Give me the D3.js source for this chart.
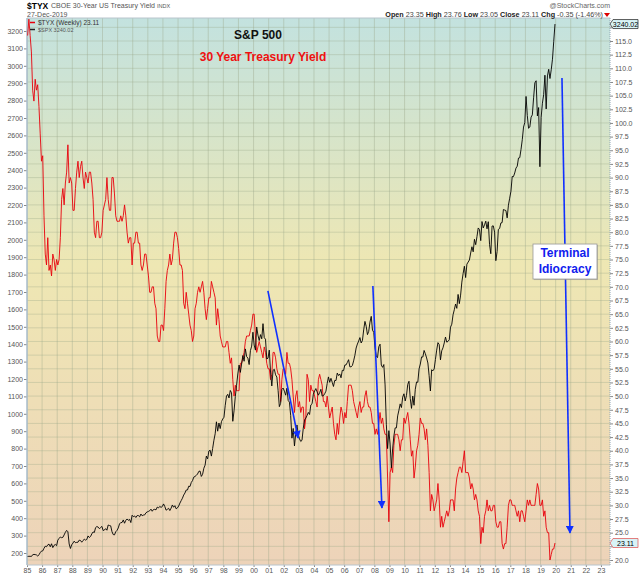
<!DOCTYPE html>
<html>
<head>
<meta charset="utf-8">
<script src="https://cdn.jsdelivr.net/npm/d3@7"></script>
<style>
  body { margin: 0; background: #fff; }
  svg text { font-family: "Liberation Sans", Arial, sans-serif; }
</style>
</head>
<body>
<svg id="chart" width="640" height="576"></svg>
<script>
// monthly closes, Jan 1985 .. Dec 2019
const startYear = 1985;

const spx = [
  180, 181, 181, 180, 190, 192, 191, 189, 182, 190, 202, 211, // 1985
  212, 227, 239, 236, 247, 251, 236, 253, 231, 244, 249, 242, // 1986
  274, 284, 292, 288, 290, 304, 319, 330, 322, 252, 226, 247, // 1987
  257, 268, 259, 261, 262, 274, 272, 262, 272, 279, 274, 278, // 1988
  298, 289, 295, 310, 321, 318, 346, 352, 349, 340, 346, 353, // 1989
  329, 332, 340, 331, 361, 358, 356, 323, 306, 304, 322, 330, // 1990
  344, 367, 375, 375, 390, 371, 388, 395, 388, 393, 375, 417, // 1991
  409, 413, 404, 415, 415, 408, 424, 414, 418, 419, 431, 436, // 1992
  439, 443, 452, 440, 450, 451, 448, 464, 459, 468, 462, 467, // 1993
  482, 467, 446, 451, 457, 444, 458, 476, 463, 472, 454, 459, // 1994
  470, 487, 501, 515, 533, 545, 562, 562, 584, 582, 605, 616, // 1995
  636, 640, 646, 654, 669, 671, 640, 652, 687, 705, 757, 741, // 1996
  786, 791, 757, 801, 848, 885, 954, 900, 947, 915, 955, 970, // 1997
  980, 1049, 1102, 1112, 1091, 1134, 1121, 957, 1017, 1099, 1164, 1229, // 1998
  1280, 1238, 1286, 1335, 1302, 1373, 1329, 1320, 1283, 1363, 1389, 1469, // 1999
  1395, 1366, 1499, 1452, 1421, 1455, 1431, 1518, 1437, 1429, 1315, 1320, // 2000
  1366, 1240, 1160, 1250, 1256, 1224, 1211, 1134, 1041, 1060, 1140, 1148, // 2001
  1130, 1107, 1147, 1077, 1067, 990, 860, 916, 815, 886, 936, 880, // 2002
  856, 841, 848, 917, 964, 975, 990, 1008, 996, 1051, 1058, 1112, // 2003
  1131, 1145, 1126, 1107, 1121, 1141, 1102, 1104, 1115, 1130, 1174, 1212, // 2004
  1181, 1204, 1181, 1157, 1192, 1191, 1234, 1220, 1229, 1207, 1250, 1248, // 2005
  1280, 1281, 1295, 1311, 1270, 1270, 1277, 1304, 1336, 1378, 1401, 1418, // 2006
  1438, 1407, 1421, 1482, 1531, 1503, 1455, 1474, 1527, 1560, 1481, 1468, // 2007
  1379, 1331, 1323, 1386, 1400, 1280, 1267, 1283, 1166, 940, 800, 903, // 2008
  826, 690, 798, 873, 919, 919, 988, 1021, 1057, 1036, 1096, 1115, // 2009
  1074, 1105, 1169, 1187, 1089, 1031, 1102, 1049, 1141, 1183, 1181, 1258, // 2010
  1286, 1327, 1326, 1364, 1345, 1321, 1292, 1219, 1131, 1253, 1247, 1258, // 2011
  1312, 1366, 1409, 1398, 1310, 1362, 1379, 1407, 1441, 1412, 1416, 1426, // 2012
  1498, 1515, 1569, 1598, 1631, 1606, 1686, 1633, 1682, 1757, 1806, 1848, // 2013
  1783, 1860, 1872, 1884, 1924, 1960, 1931, 2003, 1972, 2018, 2068, 2059, // 2014
  1995, 2105, 2068, 2086, 2107, 2063, 2104, 1972, 1920, 2079, 2080, 2044, // 2015
  1880, 1932, 2060, 2065, 2097, 2099, 2174, 2171, 2168, 2126, 2199, 2239, // 2016
  2279, 2364, 2363, 2384, 2412, 2423, 2470, 2472, 2519, 2575, 2648, 2674, // 2017
  2824, 2714, 2641, 2648, 2705, 2718, 2816, 2902, 2914, 2712, 2760, 2420, // 2018
  2704, 2785, 2834, 2946, 2752, 2942, 2980, 2927, 2977, 3038, 3141, 3240.02 // 2019
];

// $TYX = 30-year yield x 10
const tyx = [
  116, 119, 116, 113, 106, 104, 108, 106, 107, 103, 98, 93, // 1985
  94, 83, 76, 74, 79, 73, 74, 72, 76, 75, 73, 75, // 1986
  74, 75, 79, 86, 88, 85, 89, 91, 96, 89, 90, 89, // 1987
  84, 84, 88, 91, 93, 90, 92, 93, 90, 88, 91, 90, // 1988
  89, 91, 91, 89, 86, 80, 79, 82, 82, 79, 79, 80, // 1989
  84, 85, 86, 90, 86, 84, 84, 90, 90, 87, 83, 82, // 1990
  82, 82, 83, 82, 83, 85, 83, 80, 78, 79, 79, 74, // 1991
  78, 78, 80, 80, 78, 78, 74, 73, 74, 76, 76, 74, // 1992
  72, 69, 69, 70, 70, 67, 66, 61, 60, 60, 63, 63, // 1993
  62, 66, 71, 73, 74, 76, 74, 75, 78, 80, 80, 79, // 1994
  77, 74, 74, 73, 67, 66, 69, 67, 65, 63, 62, 60, // 1995
  61, 66, 67, 69, 70, 69, 70, 71, 69, 66, 64, 66, // 1996
  68, 68, 71, 70, 69, 68, 63, 66, 64, 61, 60, 59, // 1997
  59, 59, 60, 60, 58, 56, 57, 53, 50, 52, 51, 51, // 1998
  51, 56, 56, 57, 58, 60, 61, 61, 61, 62, 63, 65, // 1999
  65, 61, 58, 59, 60, 59, 58, 57, 59, 58, 56, 55, // 2000
  55, 53, 54, 58, 58, 57, 55, 54, 54, 49, 53, 55, // 2001
  55, 54, 58, 56, 56, 55, 53, 50, 47, 50, 51, 48, // 2002
  49, 47, 48, 48, 44, 46, 54, 53, 49, 52, 51, 51, // 2003
  50, 49, 48, 53, 54, 53, 52, 49, 49, 48, 50, 48, // 2004
  46, 47, 48, 45, 43, 42, 45, 43, 46, 48, 47, 45, // 2005
  47, 46, 49, 52, 52, 52, 51, 49, 48, 47, 46, 48, // 2006
  49, 47, 48, 48, 50, 51, 49, 48, 48, 47, 45, 45, // 2007
  43, 44, 43, 45, 47, 45, 46, 44, 43, 43, 35, 27, // 2008
  36, 37, 36, 41, 43, 43, 43, 42, 40, 42, 42, 46, // 2009
  45, 46, 47, 45, 42, 39, 40, 35, 37, 40, 41, 43, // 2010
  46, 45, 45, 44, 42, 44, 41, 36, 29, 32, 31, 29, // 2011
  30, 31, 34, 31, 26, 28, 26, 27, 28, 29, 28, 29, // 2012
  31, 31, 31, 29, 33, 35, 36, 37, 37, 36, 38, 40, // 2013
  36, 36, 36, 35, 33, 34, 33, 31, 32, 31, 29, 28, // 2014
  23, 26, 25, 28, 29, 31, 29, 30, 29, 29, 30, 30, // 2015
  27, 26, 26, 27, 27, 23, 22, 23, 23, 26, 30, 31, // 2016
  31, 30, 30, 30, 29, 28, 29, 27, 29, 29, 28, 27, // 2017
  29, 31, 30, 31, 30, 30, 30, 30, 32, 34, 33, 30, // 2018
  30, 31, 28, 29, 26, 25, 25, 20, 21, 22, 22, 23.11 // 2019
];

const yearTicks = d3.range(1985, 2024);
const leftTicks = d3.range(200, 3201, 100);
const rightTicks = d3.range(20, 117.6, 2.5);
// right-axis labels that sit under the last-value tags
const hiddenRight = [117.5, 22.5];

// annotation arrows in chart units: [year, spx] -> [year, spx]
const arrows = [
  [[2000.95, 1706], [2002.95, 861]],
  [[2007.9, 1734], [2008.5, 459]],
  [[2020.42, 2930], [2020.95, 315]]
];

const svg = d3.select("#chart");
const plotL = 27, plotR = 610, plotT = 18, plotB = 565;

const x = d3.scaleLinear().domain([1985, 2023.6]).range([plotL, plotR]);
const yL = d3.scaleLinear().domain([200, 3200]).range([553, 31]);
const yR = d3.scaleLinear().domain([20, 115]).range([560, 41]);

const defs = svg.append("defs");
const grad = defs.append("linearGradient")
  .attr("id", "bg").attr("x1", 0).attr("y1", 0).attr("x2", 0).attr("y2", 1);
[[0, "#c3e2df"], [0.2, "#d5e4cb"], [0.45, "#eee7b3"], [0.7, "#eedeb6"], [1, "#edd3b9"]]
  .forEach(s => grad.append("stop").attr("offset", s[0]).attr("stop-color", s[1]));

defs.append("clipPath").attr("id", "clip")
  .append("rect").attr("x", plotL).attr("y", plotT).attr("width", plotR - plotL).attr("height", plotB - plotT);

defs.append("marker")
  .attr("id", "head").attr("viewBox", "0 0 10 10")
  .attr("refX", 9).attr("refY", 5)
  .attr("markerWidth", 5).attr("markerHeight", 5)
  .attr("markerUnits", "strokeWidth")
  .attr("orient", "auto")
  .append("path").attr("d", "M0,0L10,5L0,10Z").attr("fill", "#1030ff");

svg.append("rect")
  .attr("x", plotL).attr("y", plotT).attr("width", plotR - plotL).attr("height", plotB - plotT)
  .attr("fill", "url(#bg)");

// grid
const grid = svg.append("g").attr("clip-path", "url(#clip)");
grid.selectAll(".hg").data(rightTicks).join("line")
  .attr("x1", plotL).attr("x2", plotR)
  .attr("y1", d => yR(d)).attr("y2", d => yR(d))
  .attr("stroke", "#9aa88a").attr("stroke-opacity", 0.35).attr("stroke-width", 1);
grid.selectAll(".vg").data(yearTicks).join("line")
  .attr("x1", d => x(d)).attr("x2", d => x(d))
  .attr("y1", plotT).attr("y2", plotB)
  .attr("stroke", "#9aa88a").attr("stroke-opacity", 0.4).attr("stroke-width", 1);

// axes
const tickFont = g => g.selectAll("text")
  .attr("font-family", "Liberation Sans, Arial, sans-serif")
  .attr("font-size", 7).attr("fill", "#555");

svg.append("g")
  .attr("transform", `translate(${plotL},0)`)
  .call(d3.axisLeft(yL).tickValues(leftTicks).tickFormat(d3.format("d")).tickSize(3).tickPadding(1))
  .call(g => g.select(".domain").remove())
  .call(g => g.selectAll("line").attr("stroke", "#888"))
  .call(tickFont);

svg.append("g")
  .attr("transform", `translate(${plotR},0)`)
  .call(d3.axisRight(yR).tickValues(rightTicks)
    .tickFormat(d => hiddenRight.includes(d) ? "" : d3.format(".1f")(d))
    .tickSize(3).tickPadding(2))
  .call(g => g.select(".domain").remove())
  .call(g => g.selectAll("line").attr("stroke", "#888"))
  .call(tickFont);

svg.append("g")
  .attr("transform", `translate(0,${plotB})`)
  .call(d3.axisBottom(x).tickValues(yearTicks).tickFormat(d => String(d).slice(2)).tickSize(2).tickPadding(1))
  .call(g => g.select(".domain").remove())
  .call(g => g.selectAll("line").attr("stroke", "#888"))
  .call(tickFont);

// plot frame
svg.append("line").attr("x1", plotL).attr("x2", plotL).attr("y1", plotT).attr("y2", plotB)
  .attr("stroke", "#a9bccb").attr("stroke-width", 1.5);
svg.append("line").attr("x1", plotR).attr("x2", plotR).attr("y1", plotT).attr("y2", plotB)
  .attr("stroke", "#8fa6b8").attr("stroke-dasharray", "1,1");
svg.append("line").attr("x1", plotL).attr("x2", plotR).attr("y1", plotT).attr("y2", plotT)
  .attr("stroke", "#b8c4cc");
svg.append("line").attr("x1", plotL).attr("x2", plotR).attr("y1", plotB).attr("y2", plotB)
  .attr("stroke", "#b8c4cc");

// series
const tOf = i => startYear + (i + 0.5) / 12;
const plot = svg.append("g").attr("clip-path", "url(#clip)");

plot.append("path")
  .datum(tyx)
  .attr("fill", "none").attr("stroke", "#e8000b").attr("stroke-width", 0.9)
  .attr("d", d3.line().x((d, i) => x(tOf(i))).y(d => yR(d)));

plot.append("path")
  .datum(spx)
  .attr("fill", "none").attr("stroke", "#000").attr("stroke-width", 0.9)
  .attr("d", d3.line().x((d, i) => x(tOf(i))).y(d => yL(d)));

// legend
const leg = svg.append("g").attr("font-family", "DejaVu Sans, sans-serif").attr("font-size", 6.5).attr("fill", "#333");
leg.append("line").attr("x1", 30).attr("x2", 35).attr("y1", 22.5).attr("y2", 22.5).attr("stroke", "#e8000b").attr("stroke-width", 1.5);
leg.append("text").attr("x", 38).attr("y", 25).text("$TYX (Weekly) 23.11");
leg.append("line").attr("x1", 30).attr("x2", 35).attr("y1", 29.5).attr("y2", 29.5).attr("stroke", "#222").attr("stroke-width", 1.5);
leg.append("text").attr("x", 38).attr("y", 32).attr("font-size", 5.5).attr("fill", "#555").text("$SPX 3240.02");

// header
svg.append("text").attr("x", 27).attr("y", 9).attr("font-size", 8.5).attr("font-weight", "bold").text("$TYX");
svg.append("text").attr("x", 51).attr("y", 8).attr("font-size", 7).attr("fill", "#555")
  .text("CBOE 30-Year US Treasury Yield ").append("tspan").attr("font-size", 5.5).text("INDX");
svg.append("text").attr("x", 27).attr("y", 17).attr("font-size", 7).attr("fill", "#555").text("27-Dec-2019");
svg.append("text").attr("x", 610).attr("y", 8).attr("text-anchor", "end").attr("font-size", 7).attr("fill", "#666").text("@StockCharts.com");

const quote = svg.append("text").attr("x", 603).attr("y", 17).attr("text-anchor", "end").attr("font-size", 7.2).attr("fill", "#444");
[["Open", "23.35"], ["High", "23.76"], ["Low", "23.05"], ["Close", "23.11"], ["Chg", "-0.35 (-1.46%)"]]
  .forEach(([k, v], i) => {
    quote.append("tspan").attr("font-weight", "bold").attr("fill", "#222").text((i ? " " : "") + k + " ");
    quote.append("tspan").text(v);
  });
svg.append("path").attr("d", "M604,13L610,13L607,17Z").attr("fill", "#d00");

// last-value tags
const tag = (yv, label, stroke) => {
  const g = svg.append("g").attr("transform", `translate(${plotR},${yv})`);
  g.append("path").attr("d", "M0,0L3,-4.5H28V4.5H3Z").attr("fill", "#d8f3f6").attr("stroke", stroke).attr("stroke-width", 0.8);
  g.append("text").attr("x", 15.5).attr("y", 2.5).attr("text-anchor", "middle").attr("font-size", 7).attr("fill", "#000").text(label);
};
tag(yL(3240.02), "3240.02", "#333");
tag(yR(23.11), "23.11", "#e06060");

// titles
svg.append("text").attr("x", 258).attr("y", 39).attr("text-anchor", "middle")
  .attr("font-size", 12).attr("font-weight", "bold").attr("fill", "#111").text("S&P 500");
svg.append("text").attr("x", 263).attr("y", 61).attr("text-anchor", "middle")
  .attr("font-size", 12).attr("font-weight", "bold").attr("fill", "#ee1111").text("30 Year Treasury Yield");

// arrows
svg.append("g").selectAll("line").data(arrows).join("line")
  .attr("x1", d => x(d[0][0])).attr("y1", d => yL(d[0][1]))
  .attr("x2", d => x(d[1][0])).attr("y2", d => yL(d[1][1]))
  .attr("stroke", "#1030ff").attr("stroke-width", 1.6)
  .attr("marker-end", "url(#head)");

// callout box
const bx = x(2020.62), by = yL(1878);
svg.append("rect").attr("x", bx - 31).attr("y", by - 16).attr("width", 64).attr("height", 35)
  .attr("fill", "#8a8a8a").attr("opacity", 0.5);
svg.append("rect").attr("x", bx - 32).attr("y", by - 17).attr("width", 64).attr("height", 35)
  .attr("fill", "#fff").attr("stroke", "#999").attr("stroke-width", 0.8);
svg.append("text").attr("x", bx).attr("y", by - 4).attr("text-anchor", "middle")
  .attr("font-size", 12).attr("font-weight", "bold").attr("fill", "#1020ee").text("Terminal");
svg.append("text").attr("x", bx).attr("y", by + 12).attr("text-anchor", "middle")
  .attr("font-size", 12).attr("font-weight", "bold").attr("fill", "#1020ee").text("Idiocracy");
</script>
</body>
</html>
